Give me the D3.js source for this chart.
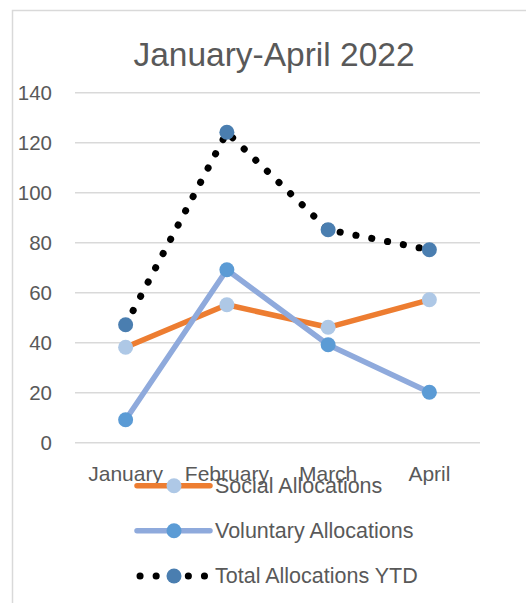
<!DOCTYPE html>
<html><head><meta charset="utf-8">
<script src="https://cdn.jsdelivr.net/npm/d3@7"></script>
<style>html,body{margin:0;padding:0;background:#fff;}svg{display:block;}</style>
</head><body>
<script>
const months = ["January", "February", "March", "April"];
const socialValues = [38, 55, 46, 57];
const voluntaryValues = [9, 69, 39, 20];
const totalValues = [47, 124, 85, 77];
const yTicks = [0, 20, 40, 60, 80, 100, 120, 140];
const title = "January-April 2022";
const seriesNames = ["Social Allocations", "Voluntary Allocations", "Total Allocations YTD"];

const W = 526, H = 603;
const FONT = "'Liberation Sans', Arial, sans-serif";
const TXT = "#595959";

const series = [
  {name: seriesNames[0], values: socialValues, line: "#ED7D31", marker: "#AEC8E6", width: 5.5, dash: null},
  {name: seriesNames[1], values: voluntaryValues, line: "#8FAADC", marker: "#5B9BD5", width: 5.5, dash: null},
  {name: seriesNames[2], values: totalValues, line: "#000000", marker: "#4A7EB0", width: 7, dash: "0.1 16"}
];

const svg = d3.select("body").append("svg").attr("width", W).attr("height", H);

// chart border (only left/top visible in the crop)
svg.append("rect").attr("x", 12.5).attr("y", 10.5).attr("width", 700).attr("height", 700)
  .attr("fill", "none").attr("stroke", "#D9D9D9").attr("stroke-width", 1.5);

svg.append("text").attr("x", 274).attr("y", 65.5).attr("text-anchor", "middle")
  .attr("font-family", FONT).attr("font-size", 33.5).attr("fill", TXT).text(title);

const x = d3.scaleBand().domain(months).range([75, 480]);
const y = d3.scaleLinear().domain([0, 140]).range([442.3, 92.3]);

// gridlines
const gy = svg.append("g").attr("transform", "translate(75,0)")
  .call(d3.axisLeft(y).tickValues(yTicks).tickSize(-405).tickFormat(""));
gy.select(".domain").remove();
gy.selectAll(".tick line").attr("stroke", "#D9D9D9").attr("stroke-width", 1.5);

// y labels
const ya = svg.append("g").attr("transform", "translate(52,0)")
  .call(d3.axisLeft(y).tickValues(yTicks).tickSize(0).tickPadding(0));
ya.select(".domain").remove();
ya.selectAll("text").attr("font-family", FONT).attr("font-size", 20.5).attr("fill", TXT).attr("dy", "0.36em");

// x labels
const xa = svg.append("g").attr("transform", "translate(0,480.5)")
  .call(d3.axisBottom(x).tickSize(0).tickPadding(0));
xa.select(".domain").remove();
xa.selectAll("text").attr("font-family", FONT).attr("font-size", 21).attr("fill", TXT).attr("dy", 0);

const cx = m => x(m) + x.bandwidth() / 2;
const line = d3.line().x((d, i) => cx(months[i])).y(d => y(d));

series.forEach(s => {
  const p = svg.append("path").datum(s.values).attr("d", line)
    .attr("fill", "none").attr("stroke", s.line).attr("stroke-width", s.width)
    .attr("stroke-linejoin", "round").attr("stroke-linecap", "round");
  if (s.dash) p.attr("stroke-dasharray", s.dash);
  svg.append("g").selectAll("circle").data(s.values).join("circle")
    .attr("cx", (d, i) => cx(months[i])).attr("cy", d => y(d)).attr("r", 7.5)
    .attr("fill", s.marker);
});

// legend
const legendY = [485.7, 530.7, 576];
series.forEach((s, i) => {
  const g = svg.append("g").attr("transform", `translate(0,${legendY[i]})`);
  const p = g.append("line").attr("x1", s.dash ? 140 : 137).attr("x2", s.dash ? 206 : 210)
    .attr("stroke", s.line).attr("stroke-width", s.width).attr("stroke-linecap", "round");
  if (s.dash) p.attr("stroke-dasharray", s.dash);
  g.append("circle").attr("cx", 174).attr("r", 7.5).attr("fill", s.marker);
  g.append("text").attr("x", 215).attr("y", 7).attr("font-family", FONT).attr("font-size", 21.5)
    .attr("fill", TXT).text(s.name);
});
</script>
</body></html>
